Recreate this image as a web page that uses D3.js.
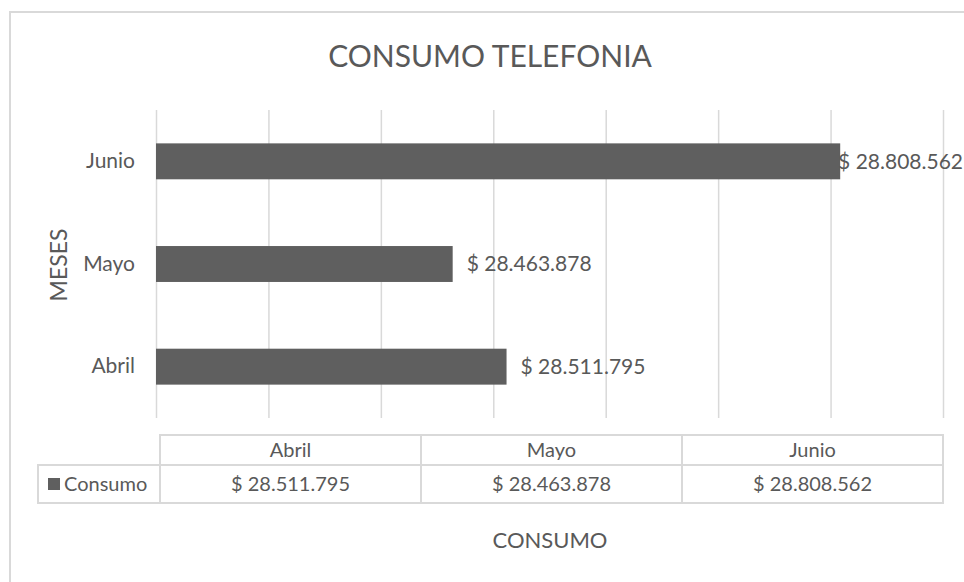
<!DOCTYPE html>
<html>
<head>
<meta charset="utf-8">
<script src="https://cdn.jsdelivr.net/npm/d3@7"></script>
<style>
  html, body { margin: 0; padding: 0; background: #fff; }
  svg { display: block; }
  text { font-family: Lato, "Open Sans", sans-serif; fill: #595959; }
</style>
</head>
<body>
<svg id="chart" width="964" height="582"></svg>
<script>
// ---- data ----
const months = ["Abril", "Mayo", "Junio"];
const consumo = [28511795, 28463878, 28808562];
const seriesName = "Consumo";
const title = "CONSUMO TELEFONIA";
const yTitle = "MESES";
const xTitle = "CONSUMO";
const xDomain = [28200000, 28900000];
const xTickStep = 100000;

const fmt = v => "$ " + d3.format(",")(v).replace(/,/g, ".");

const svg = d3.select("#chart");
const W = 964, H = 582;
const data = months.map((m, i) => ({ month: m, value: consumo[i] }));

svg.append("rect").attr("width", W).attr("height", H).attr("fill", "#fff");
// chart border
svg.append("rect").attr("x", 10).attr("y", 12).attr("width", 1000).attr("height", 700)
  .attr("fill", "none").attr("stroke", "#d9d9d9").attr("stroke-width", 2);

// title
svg.append("text").attr("x", 490).attr("y", 56).attr("dy", "0.35em")
  .attr("text-anchor", "middle").style("font-size", "30px").text(title);

// scales
const plotTop = 110, plotBottom = 418;
const x = d3.scaleLinear().domain(xDomain).range([156, 943]);
const y = d3.scaleBand().domain(months.slice().reverse()).range([plotTop, plotBottom])
  .paddingInner(0.65).paddingOuter(0.325);

// gridlines via axis
const gridAxis = d3.axisBottom(x).tickValues(d3.range(xDomain[0], xDomain[1] + 1, xTickStep))
  .tickSize(-(plotBottom - plotTop)).tickFormat("");
const g = svg.append("g").attr("transform", `translate(0,${plotBottom})`).call(gridAxis);
g.select(".domain").remove();
g.selectAll(".tick line").attr("stroke", "#d9d9d9").attr("stroke-width", 1.5);

// bars
svg.selectAll(".bar").data(data).join("rect").attr("class", "bar")
  .attr("x", x(xDomain[0])).attr("y", d => y(d.month))
  .attr("width", d => x(d.value) - x(xDomain[0])).attr("height", y.bandwidth())
  .attr("fill", "#5f5f5f");

// category labels
const yAxis = d3.axisLeft(y).tickSize(0).tickPadding(0);
const ya = svg.append("g").attr("transform", "translate(135,0)").call(yAxis);
ya.select(".domain").remove();
ya.selectAll("text").style("font-size", "21px").attr("fill", "#595959")
  .style("font-family", "Lato, 'Open Sans', sans-serif");

// data labels
svg.selectAll(".lbl").data(data).join("text").attr("class", "lbl")
  .attr("y", d => y(d.month) + y.bandwidth() / 2).attr("dy", "0.35em")
  .style("font-size", "21px").text(d => fmt(d.value))
  .attr("x", function (d) {
    const w = this.getComputedTextLength();
    return Math.min(x(d.value) + 14, 963 - w);
  });

// y title
svg.append("text").attr("transform", "translate(59,265) rotate(-90)").attr("dy", "0.35em")
  .attr("text-anchor", "middle").style("font-size", "23px").text(yTitle);

// data table
const tx = d3.scaleBand().domain(months).range([160, 943]);
const r0 = 435, r1 = 465, r2 = 503, legLeft = 38;
const tg = svg.append("g").attr("stroke", "#d9d9d9").attr("stroke-width", 2).attr("fill", "none");
tg.append("path").attr("d",
  `M${tx.range()[0]},${r1}V${r0}H${tx.range()[1]}V${r2}H${legLeft}V${r1}H${tx.range()[1]}`);
months.forEach(m => {
  tg.append("line").attr("x1", tx(m)).attr("x2", tx(m)).attr("y1", r0).attr("y2", r2);
});
svg.selectAll(".th").data(months).join("text").attr("class", "th")
  .attr("x", d => tx(d) + tx.bandwidth() / 2).attr("y", (r0 + r1) / 2).attr("dy", "0.35em")
  .attr("text-anchor", "middle").style("font-size", "20px").text(d => d);
svg.selectAll(".td").data(data).join("text").attr("class", "td")
  .attr("x", d => tx(d.month) + tx.bandwidth() / 2).attr("y", (r1 + r2) / 2).attr("dy", "0.35em")
  .attr("text-anchor", "middle").style("font-size", "20px").text(d => fmt(d.value));
svg.append("rect").attr("x", 48).attr("y", 478).attr("width", 12).attr("height", 12).attr("fill", "#5f5f5f");
svg.append("text").attr("x", 64).attr("y", (r1 + r2) / 2).attr("dy", "0.35em")
  .style("font-size", "20px").text(seriesName);

// x title
svg.append("text").attr("x", 550).attr("y", 540).attr("dy", "0.35em")
  .attr("text-anchor", "middle").style("font-size", "22px").text(xTitle);
</script>
</body>
</html>
